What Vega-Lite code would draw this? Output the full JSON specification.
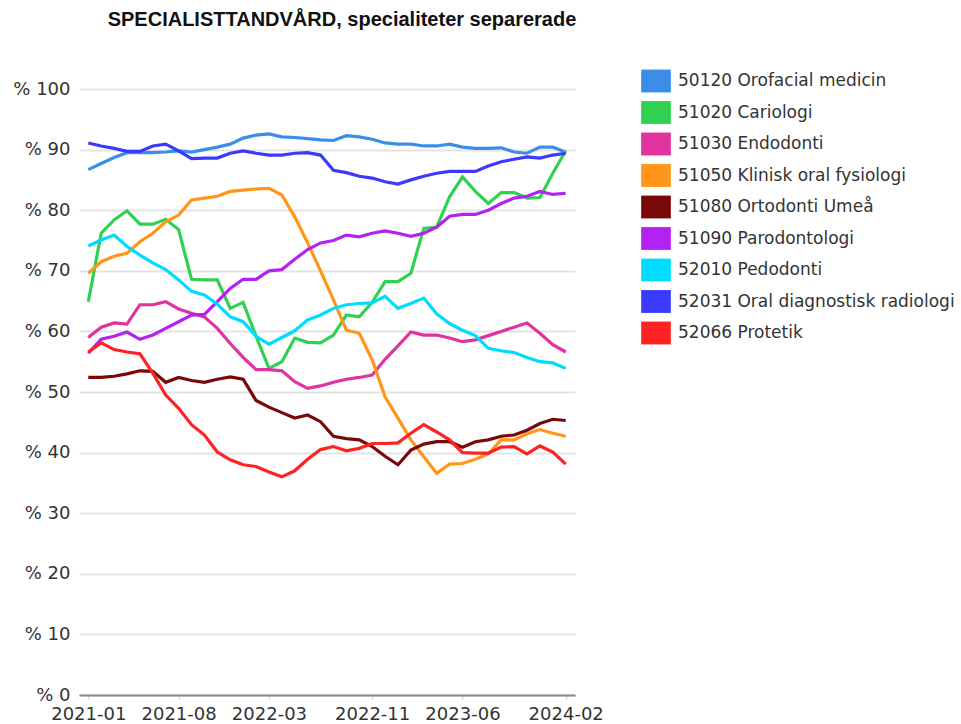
{
 "$schema": "https://vega.github.io/schema/vega-lite/v6.json",
 "width": 496, "height": 606,
 "autosize": {"type": "none"},
 "padding": {"left": 79, "top": 89, "right": 386, "bottom": 29},
 "background": "white",
 "title": {"text": "SPECIALISTTANDVÅRD, specialiteter separerade", "font": "Liberation Sans", "fontSize": 20, "fontWeight": "bold", "color": "#111111", "anchor": "middle", "dx": 15, "offset": 36},
 "config": {"view": {"stroke": null}},
 "datasets": {
  "d": [
{"m":"2021-01","s":"50120 Orofacial medicin","v":86.7},{"m":"2021-02","s":"50120 Orofacial medicin","v":87.7},{"m":"2021-03","s":"50120 Orofacial medicin","v":88.7},{"m":"2021-04","s":"50120 Orofacial medicin","v":89.5},{"m":"2021-05","s":"50120 Orofacial medicin","v":89.5},{"m":"2021-06","s":"50120 Orofacial medicin","v":89.5},{"m":"2021-07","s":"50120 Orofacial medicin","v":89.6},{"m":"2021-08","s":"50120 Orofacial medicin","v":89.8},{"m":"2021-09","s":"50120 Orofacial medicin","v":89.6},{"m":"2021-10","s":"50120 Orofacial medicin","v":90.0},{"m":"2021-11","s":"50120 Orofacial medicin","v":90.4},{"m":"2021-12","s":"50120 Orofacial medicin","v":90.9},{"m":"2022-01","s":"50120 Orofacial medicin","v":91.9},{"m":"2022-02","s":"50120 Orofacial medicin","v":92.4},{"m":"2022-03","s":"50120 Orofacial medicin","v":92.6},{"m":"2022-04","s":"50120 Orofacial medicin","v":92.1},{"m":"2022-05","s":"50120 Orofacial medicin","v":92.0},{"m":"2022-06","s":"50120 Orofacial medicin","v":91.8},{"m":"2022-07","s":"50120 Orofacial medicin","v":91.6},{"m":"2022-08","s":"50120 Orofacial medicin","v":91.5},{"m":"2022-09","s":"50120 Orofacial medicin","v":92.3},{"m":"2022-10","s":"50120 Orofacial medicin","v":92.1},{"m":"2022-11","s":"50120 Orofacial medicin","v":91.7},{"m":"2022-12","s":"50120 Orofacial medicin","v":91.1},{"m":"2023-01","s":"50120 Orofacial medicin","v":90.9},{"m":"2023-02","s":"50120 Orofacial medicin","v":90.9},{"m":"2023-03","s":"50120 Orofacial medicin","v":90.6},{"m":"2023-04","s":"50120 Orofacial medicin","v":90.6},{"m":"2023-05","s":"50120 Orofacial medicin","v":90.9},{"m":"2023-06","s":"50120 Orofacial medicin","v":90.4},{"m":"2023-07","s":"50120 Orofacial medicin","v":90.2},{"m":"2023-08","s":"50120 Orofacial medicin","v":90.2},{"m":"2023-09","s":"50120 Orofacial medicin","v":90.3},{"m":"2023-10","s":"50120 Orofacial medicin","v":89.6},{"m":"2023-11","s":"50120 Orofacial medicin","v":89.4},{"m":"2023-12","s":"50120 Orofacial medicin","v":90.4},{"m":"2024-01","s":"50120 Orofacial medicin","v":90.4},{"m":"2024-02","s":"50120 Orofacial medicin","v":89.6},
{"m":"2021-01","s":"51020 Cariologi","v":64.9},{"m":"2021-02","s":"51020 Cariologi","v":76.2},{"m":"2021-03","s":"51020 Cariologi","v":78.4},{"m":"2021-04","s":"51020 Cariologi","v":79.9},{"m":"2021-05","s":"51020 Cariologi","v":77.7},{"m":"2021-06","s":"51020 Cariologi","v":77.7},{"m":"2021-07","s":"51020 Cariologi","v":78.5},{"m":"2021-08","s":"51020 Cariologi","v":76.8},{"m":"2021-09","s":"51020 Cariologi","v":68.6},{"m":"2021-10","s":"51020 Cariologi","v":68.5},{"m":"2021-11","s":"51020 Cariologi","v":68.5},{"m":"2021-12","s":"51020 Cariologi","v":63.8},{"m":"2022-01","s":"51020 Cariologi","v":64.8},{"m":"2022-02","s":"51020 Cariologi","v":59.2},{"m":"2022-03","s":"51020 Cariologi","v":53.9},{"m":"2022-04","s":"51020 Cariologi","v":55.0},{"m":"2022-05","s":"51020 Cariologi","v":58.9},{"m":"2022-06","s":"51020 Cariologi","v":58.2},{"m":"2022-07","s":"51020 Cariologi","v":58.1},{"m":"2022-08","s":"51020 Cariologi","v":59.4},{"m":"2022-09","s":"51020 Cariologi","v":62.7},{"m":"2022-10","s":"51020 Cariologi","v":62.4},{"m":"2022-11","s":"51020 Cariologi","v":64.8},{"m":"2022-12","s":"51020 Cariologi","v":68.2},{"m":"2023-01","s":"51020 Cariologi","v":68.2},{"m":"2023-02","s":"51020 Cariologi","v":69.6},{"m":"2023-03","s":"51020 Cariologi","v":77.0},{"m":"2023-04","s":"51020 Cariologi","v":77.2},{"m":"2023-05","s":"51020 Cariologi","v":82.2},{"m":"2023-06","s":"51020 Cariologi","v":85.5},{"m":"2023-07","s":"51020 Cariologi","v":83.1},{"m":"2023-08","s":"51020 Cariologi","v":81.1},{"m":"2023-09","s":"51020 Cariologi","v":82.9},{"m":"2023-10","s":"51020 Cariologi","v":82.9},{"m":"2023-11","s":"51020 Cariologi","v":82.0},{"m":"2023-12","s":"51020 Cariologi","v":82.1},{"m":"2024-01","s":"51020 Cariologi","v":86.1},{"m":"2024-02","s":"51020 Cariologi","v":89.8},
{"m":"2021-01","s":"51030 Endodonti","v":59.0},{"m":"2021-02","s":"51030 Endodonti","v":60.7},{"m":"2021-03","s":"51030 Endodonti","v":61.4},{"m":"2021-04","s":"51030 Endodonti","v":61.2},{"m":"2021-05","s":"51030 Endodonti","v":64.4},{"m":"2021-06","s":"51030 Endodonti","v":64.4},{"m":"2021-07","s":"51030 Endodonti","v":64.9},{"m":"2021-08","s":"51030 Endodonti","v":63.7},{"m":"2021-09","s":"51030 Endodonti","v":63.0},{"m":"2021-10","s":"51030 Endodonti","v":62.4},{"m":"2021-11","s":"51030 Endodonti","v":60.5},{"m":"2021-12","s":"51030 Endodonti","v":58.0},{"m":"2022-01","s":"51030 Endodonti","v":55.7},{"m":"2022-02","s":"51030 Endodonti","v":53.7},{"m":"2022-03","s":"51030 Endodonti","v":53.7},{"m":"2022-04","s":"51030 Endodonti","v":53.5},{"m":"2022-05","s":"51030 Endodonti","v":51.7},{"m":"2022-06","s":"51030 Endodonti","v":50.6},{"m":"2022-07","s":"51030 Endodonti","v":51.0},{"m":"2022-08","s":"51030 Endodonti","v":51.6},{"m":"2022-09","s":"51030 Endodonti","v":52.1},{"m":"2022-10","s":"51030 Endodonti","v":52.4},{"m":"2022-11","s":"51030 Endodonti","v":52.8},{"m":"2022-12","s":"51030 Endodonti","v":55.4},{"m":"2023-01","s":"51030 Endodonti","v":57.6},{"m":"2023-02","s":"51030 Endodonti","v":59.9},{"m":"2023-03","s":"51030 Endodonti","v":59.4},{"m":"2023-04","s":"51030 Endodonti","v":59.4},{"m":"2023-05","s":"51030 Endodonti","v":58.9},{"m":"2023-06","s":"51030 Endodonti","v":58.3},{"m":"2023-07","s":"51030 Endodonti","v":58.6},{"m":"2023-08","s":"51030 Endodonti","v":59.3},{"m":"2023-09","s":"51030 Endodonti","v":60.0},{"m":"2023-10","s":"51030 Endodonti","v":60.7},{"m":"2023-11","s":"51030 Endodonti","v":61.4},{"m":"2023-12","s":"51030 Endodonti","v":59.7},{"m":"2024-01","s":"51030 Endodonti","v":57.8},{"m":"2024-02","s":"51030 Endodonti","v":56.6},
{"m":"2021-01","s":"51050 Klinisk oral fysiologi","v":69.6},{"m":"2021-02","s":"51050 Klinisk oral fysiologi","v":71.5},{"m":"2021-03","s":"51050 Klinisk oral fysiologi","v":72.4},{"m":"2021-04","s":"51050 Klinisk oral fysiologi","v":72.9},{"m":"2021-05","s":"51050 Klinisk oral fysiologi","v":74.8},{"m":"2021-06","s":"51050 Klinisk oral fysiologi","v":76.2},{"m":"2021-07","s":"51050 Klinisk oral fysiologi","v":78.1},{"m":"2021-08","s":"51050 Klinisk oral fysiologi","v":79.2},{"m":"2021-09","s":"51050 Klinisk oral fysiologi","v":81.7},{"m":"2021-10","s":"51050 Klinisk oral fysiologi","v":82.0},{"m":"2021-11","s":"51050 Klinisk oral fysiologi","v":82.3},{"m":"2021-12","s":"51050 Klinisk oral fysiologi","v":83.1},{"m":"2022-01","s":"51050 Klinisk oral fysiologi","v":83.3},{"m":"2022-02","s":"51050 Klinisk oral fysiologi","v":83.5},{"m":"2022-03","s":"51050 Klinisk oral fysiologi","v":83.6},{"m":"2022-04","s":"51050 Klinisk oral fysiologi","v":82.5},{"m":"2022-05","s":"51050 Klinisk oral fysiologi","v":78.9},{"m":"2022-06","s":"51050 Klinisk oral fysiologi","v":74.6},{"m":"2022-07","s":"51050 Klinisk oral fysiologi","v":70.0},{"m":"2022-08","s":"51050 Klinisk oral fysiologi","v":65.2},{"m":"2022-09","s":"51050 Klinisk oral fysiologi","v":60.2},{"m":"2022-10","s":"51050 Klinisk oral fysiologi","v":59.7},{"m":"2022-11","s":"51050 Klinisk oral fysiologi","v":55.3},{"m":"2022-12","s":"51050 Klinisk oral fysiologi","v":49.2},{"m":"2023-01","s":"51050 Klinisk oral fysiologi","v":45.7},{"m":"2023-02","s":"51050 Klinisk oral fysiologi","v":42.1},{"m":"2023-03","s":"51050 Klinisk oral fysiologi","v":39.3},{"m":"2023-04","s":"51050 Klinisk oral fysiologi","v":36.6},{"m":"2023-05","s":"51050 Klinisk oral fysiologi","v":38.1},{"m":"2023-06","s":"51050 Klinisk oral fysiologi","v":38.2},{"m":"2023-07","s":"51050 Klinisk oral fysiologi","v":38.9},{"m":"2023-08","s":"51050 Klinisk oral fysiologi","v":39.8},{"m":"2023-09","s":"51050 Klinisk oral fysiologi","v":42.1},{"m":"2023-10","s":"51050 Klinisk oral fysiologi","v":42.1},{"m":"2023-11","s":"51050 Klinisk oral fysiologi","v":43.1},{"m":"2023-12","s":"51050 Klinisk oral fysiologi","v":43.8},{"m":"2024-01","s":"51050 Klinisk oral fysiologi","v":43.2},{"m":"2024-02","s":"51050 Klinisk oral fysiologi","v":42.7},
{"m":"2021-01","s":"51080 Ortodonti Umeå","v":52.4},{"m":"2021-02","s":"51080 Ortodonti Umeå","v":52.4},{"m":"2021-03","s":"51080 Ortodonti Umeå","v":52.6},{"m":"2021-04","s":"51080 Ortodonti Umeå","v":53.0},{"m":"2021-05","s":"51080 Ortodonti Umeå","v":53.5},{"m":"2021-06","s":"51080 Ortodonti Umeå","v":53.4},{"m":"2021-07","s":"51080 Ortodonti Umeå","v":51.6},{"m":"2021-08","s":"51080 Ortodonti Umeå","v":52.4},{"m":"2021-09","s":"51080 Ortodonti Umeå","v":51.9},{"m":"2021-10","s":"51080 Ortodonti Umeå","v":51.6},{"m":"2021-11","s":"51080 Ortodonti Umeå","v":52.1},{"m":"2021-12","s":"51080 Ortodonti Umeå","v":52.5},{"m":"2022-01","s":"51080 Ortodonti Umeå","v":52.1},{"m":"2022-02","s":"51080 Ortodonti Umeå","v":48.6},{"m":"2022-03","s":"51080 Ortodonti Umeå","v":47.5},{"m":"2022-04","s":"51080 Ortodonti Umeå","v":46.6},{"m":"2022-05","s":"51080 Ortodonti Umeå","v":45.7},{"m":"2022-06","s":"51080 Ortodonti Umeå","v":46.2},{"m":"2022-07","s":"51080 Ortodonti Umeå","v":45.1},{"m":"2022-08","s":"51080 Ortodonti Umeå","v":42.7},{"m":"2022-09","s":"51080 Ortodonti Umeå","v":42.3},{"m":"2022-10","s":"51080 Ortodonti Umeå","v":42.1},{"m":"2022-11","s":"51080 Ortodonti Umeå","v":41.0},{"m":"2022-12","s":"51080 Ortodonti Umeå","v":39.4},{"m":"2023-01","s":"51080 Ortodonti Umeå","v":38.0},{"m":"2023-02","s":"51080 Ortodonti Umeå","v":40.4},{"m":"2023-03","s":"51080 Ortodonti Umeå","v":41.4},{"m":"2023-04","s":"51080 Ortodonti Umeå","v":41.8},{"m":"2023-05","s":"51080 Ortodonti Umeå","v":41.8},{"m":"2023-06","s":"51080 Ortodonti Umeå","v":40.9},{"m":"2023-07","s":"51080 Ortodonti Umeå","v":41.8},{"m":"2023-08","s":"51080 Ortodonti Umeå","v":42.1},{"m":"2023-09","s":"51080 Ortodonti Umeå","v":42.7},{"m":"2023-10","s":"51080 Ortodonti Umeå","v":42.9},{"m":"2023-11","s":"51080 Ortodonti Umeå","v":43.7},{"m":"2023-12","s":"51080 Ortodonti Umeå","v":44.8},{"m":"2024-01","s":"51080 Ortodonti Umeå","v":45.5},{"m":"2024-02","s":"51080 Ortodonti Umeå","v":45.3},
{"m":"2021-01","s":"51090 Parodontologi","v":56.4},{"m":"2021-02","s":"51090 Parodontologi","v":58.7},{"m":"2021-03","s":"51090 Parodontologi","v":59.2},{"m":"2021-04","s":"51090 Parodontologi","v":59.9},{"m":"2021-05","s":"51090 Parodontologi","v":58.7},{"m":"2021-06","s":"51090 Parodontologi","v":59.4},{"m":"2021-07","s":"51090 Parodontologi","v":60.5},{"m":"2021-08","s":"51090 Parodontologi","v":61.6},{"m":"2021-09","s":"51090 Parodontologi","v":62.7},{"m":"2021-10","s":"51090 Parodontologi","v":62.8},{"m":"2021-11","s":"51090 Parodontologi","v":64.9},{"m":"2021-12","s":"51090 Parodontologi","v":67.1},{"m":"2022-01","s":"51090 Parodontologi","v":68.6},{"m":"2022-02","s":"51090 Parodontologi","v":68.6},{"m":"2022-03","s":"51090 Parodontologi","v":70.0},{"m":"2022-04","s":"51090 Parodontologi","v":70.2},{"m":"2022-05","s":"51090 Parodontologi","v":71.9},{"m":"2022-06","s":"51090 Parodontologi","v":73.5},{"m":"2022-07","s":"51090 Parodontologi","v":74.6},{"m":"2022-08","s":"51090 Parodontologi","v":75.0},{"m":"2022-09","s":"51090 Parodontologi","v":75.9},{"m":"2022-10","s":"51090 Parodontologi","v":75.6},{"m":"2022-11","s":"51090 Parodontologi","v":76.2},{"m":"2022-12","s":"51090 Parodontologi","v":76.6},{"m":"2023-01","s":"51090 Parodontologi","v":76.2},{"m":"2023-02","s":"51090 Parodontologi","v":75.7},{"m":"2023-03","s":"51090 Parodontologi","v":76.2},{"m":"2023-04","s":"51090 Parodontologi","v":77.2},{"m":"2023-05","s":"51090 Parodontologi","v":79.0},{"m":"2023-06","s":"51090 Parodontologi","v":79.3},{"m":"2023-07","s":"51090 Parodontologi","v":79.3},{"m":"2023-08","s":"51090 Parodontologi","v":80.0},{"m":"2023-09","s":"51090 Parodontologi","v":81.1},{"m":"2023-10","s":"51090 Parodontologi","v":82.0},{"m":"2023-11","s":"51090 Parodontologi","v":82.3},{"m":"2023-12","s":"51090 Parodontologi","v":83.1},{"m":"2024-01","s":"51090 Parodontologi","v":82.6},{"m":"2024-02","s":"51090 Parodontologi","v":82.8},
{"m":"2021-01","s":"52010 Pedodonti","v":74.1},{"m":"2021-02","s":"52010 Pedodonti","v":75.1},{"m":"2021-03","s":"52010 Pedodonti","v":75.9},{"m":"2021-04","s":"52010 Pedodonti","v":74.0},{"m":"2021-05","s":"52010 Pedodonti","v":72.6},{"m":"2021-06","s":"52010 Pedodonti","v":71.3},{"m":"2021-07","s":"52010 Pedodonti","v":70.2},{"m":"2021-08","s":"52010 Pedodonti","v":68.5},{"m":"2021-09","s":"52010 Pedodonti","v":66.6},{"m":"2021-10","s":"52010 Pedodonti","v":66.0},{"m":"2021-11","s":"52010 Pedodonti","v":64.5},{"m":"2021-12","s":"52010 Pedodonti","v":62.4},{"m":"2022-01","s":"52010 Pedodonti","v":61.6},{"m":"2022-02","s":"52010 Pedodonti","v":59.2},{"m":"2022-03","s":"52010 Pedodonti","v":57.9},{"m":"2022-04","s":"52010 Pedodonti","v":59.0},{"m":"2022-05","s":"52010 Pedodonti","v":60.1},{"m":"2022-06","s":"52010 Pedodonti","v":61.9},{"m":"2022-07","s":"52010 Pedodonti","v":62.7},{"m":"2022-08","s":"52010 Pedodonti","v":63.8},{"m":"2022-09","s":"52010 Pedodonti","v":64.4},{"m":"2022-10","s":"52010 Pedodonti","v":64.6},{"m":"2022-11","s":"52010 Pedodonti","v":64.7},{"m":"2022-12","s":"52010 Pedodonti","v":65.8},{"m":"2023-01","s":"52010 Pedodonti","v":63.8},{"m":"2023-02","s":"52010 Pedodonti","v":64.6},{"m":"2023-03","s":"52010 Pedodonti","v":65.5},{"m":"2023-04","s":"52010 Pedodonti","v":62.9},{"m":"2023-05","s":"52010 Pedodonti","v":61.3},{"m":"2023-06","s":"52010 Pedodonti","v":60.2},{"m":"2023-07","s":"52010 Pedodonti","v":59.3},{"m":"2023-08","s":"52010 Pedodonti","v":57.2},{"m":"2023-09","s":"52010 Pedodonti","v":56.8},{"m":"2023-10","s":"52010 Pedodonti","v":56.5},{"m":"2023-11","s":"52010 Pedodonti","v":55.7},{"m":"2023-12","s":"52010 Pedodonti","v":55.0},{"m":"2024-01","s":"52010 Pedodonti","v":54.8},{"m":"2024-02","s":"52010 Pedodonti","v":53.9},
{"m":"2021-01","s":"52031 Oral diagnostisk radiologi","v":91.1},{"m":"2021-02","s":"52031 Oral diagnostisk radiologi","v":90.6},{"m":"2021-03","s":"52031 Oral diagnostisk radiologi","v":90.2},{"m":"2021-04","s":"52031 Oral diagnostisk radiologi","v":89.7},{"m":"2021-05","s":"52031 Oral diagnostisk radiologi","v":89.7},{"m":"2021-06","s":"52031 Oral diagnostisk radiologi","v":90.6},{"m":"2021-07","s":"52031 Oral diagnostisk radiologi","v":90.9},{"m":"2021-08","s":"52031 Oral diagnostisk radiologi","v":89.8},{"m":"2021-09","s":"52031 Oral diagnostisk radiologi","v":88.5},{"m":"2021-10","s":"52031 Oral diagnostisk radiologi","v":88.6},{"m":"2021-11","s":"52031 Oral diagnostisk radiologi","v":88.6},{"m":"2021-12","s":"52031 Oral diagnostisk radiologi","v":89.4},{"m":"2022-01","s":"52031 Oral diagnostisk radiologi","v":89.8},{"m":"2022-02","s":"52031 Oral diagnostisk radiologi","v":89.4},{"m":"2022-03","s":"52031 Oral diagnostisk radiologi","v":89.1},{"m":"2022-04","s":"52031 Oral diagnostisk radiologi","v":89.1},{"m":"2022-05","s":"52031 Oral diagnostisk radiologi","v":89.4},{"m":"2022-06","s":"52031 Oral diagnostisk radiologi","v":89.5},{"m":"2022-07","s":"52031 Oral diagnostisk radiologi","v":89.1},{"m":"2022-08","s":"52031 Oral diagnostisk radiologi","v":86.6},{"m":"2022-09","s":"52031 Oral diagnostisk radiologi","v":86.2},{"m":"2022-10","s":"52031 Oral diagnostisk radiologi","v":85.6},{"m":"2022-11","s":"52031 Oral diagnostisk radiologi","v":85.3},{"m":"2022-12","s":"52031 Oral diagnostisk radiologi","v":84.7},{"m":"2023-01","s":"52031 Oral diagnostisk radiologi","v":84.3},{"m":"2023-02","s":"52031 Oral diagnostisk radiologi","v":85.0},{"m":"2023-03","s":"52031 Oral diagnostisk radiologi","v":85.6},{"m":"2023-04","s":"52031 Oral diagnostisk radiologi","v":86.1},{"m":"2023-05","s":"52031 Oral diagnostisk radiologi","v":86.4},{"m":"2023-06","s":"52031 Oral diagnostisk radiologi","v":86.4},{"m":"2023-07","s":"52031 Oral diagnostisk radiologi","v":86.4},{"m":"2023-08","s":"52031 Oral diagnostisk radiologi","v":87.3},{"m":"2023-09","s":"52031 Oral diagnostisk radiologi","v":88.0},{"m":"2023-10","s":"52031 Oral diagnostisk radiologi","v":88.4},{"m":"2023-11","s":"52031 Oral diagnostisk radiologi","v":88.8},{"m":"2023-12","s":"52031 Oral diagnostisk radiologi","v":88.6},{"m":"2024-01","s":"52031 Oral diagnostisk radiologi","v":89.1},{"m":"2024-02","s":"52031 Oral diagnostisk radiologi","v":89.4},
{"m":"2021-01","s":"52066 Protetik","v":56.6},{"m":"2021-02","s":"52066 Protetik","v":58.1},{"m":"2021-03","s":"52066 Protetik","v":57.0},{"m":"2021-04","s":"52066 Protetik","v":56.6},{"m":"2021-05","s":"52066 Protetik","v":56.3},{"m":"2021-06","s":"52066 Protetik","v":53.1},{"m":"2021-07","s":"52066 Protetik","v":49.5},{"m":"2021-08","s":"52066 Protetik","v":47.3},{"m":"2021-09","s":"52066 Protetik","v":44.6},{"m":"2021-10","s":"52066 Protetik","v":42.9},{"m":"2021-11","s":"52066 Protetik","v":40.1},{"m":"2021-12","s":"52066 Protetik","v":38.8},{"m":"2022-01","s":"52066 Protetik","v":38.0},{"m":"2022-02","s":"52066 Protetik","v":37.7},{"m":"2022-03","s":"52066 Protetik","v":36.8},{"m":"2022-04","s":"52066 Protetik","v":36.0},{"m":"2022-05","s":"52066 Protetik","v":37.0},{"m":"2022-06","s":"52066 Protetik","v":38.9},{"m":"2022-07","s":"52066 Protetik","v":40.5},{"m":"2022-08","s":"52066 Protetik","v":41.0},{"m":"2022-09","s":"52066 Protetik","v":40.3},{"m":"2022-10","s":"52066 Protetik","v":40.7},{"m":"2022-11","s":"52066 Protetik","v":41.5},{"m":"2022-12","s":"52066 Protetik","v":41.5},{"m":"2023-01","s":"52066 Protetik","v":41.6},{"m":"2023-02","s":"52066 Protetik","v":43.2},{"m":"2023-03","s":"52066 Protetik","v":44.6},{"m":"2023-04","s":"52066 Protetik","v":43.4},{"m":"2023-05","s":"52066 Protetik","v":42.1},{"m":"2023-06","s":"52066 Protetik","v":40.0},{"m":"2023-07","s":"52066 Protetik","v":39.9},{"m":"2023-08","s":"52066 Protetik","v":39.9},{"m":"2023-09","s":"52066 Protetik","v":40.9},{"m":"2023-10","s":"52066 Protetik","v":41.0},{"m":"2023-11","s":"52066 Protetik","v":39.8},{"m":"2023-12","s":"52066 Protetik","v":41.1},{"m":"2024-01","s":"52066 Protetik","v":40.1},{"m":"2024-02","s":"52066 Protetik","v":38.1}
  ]
 },
 "data": {"name": "d"},
 "mark": {"type": "line", "strokeWidth": 3.2, "interpolate": "linear"},
 "encoding": {
  "x": {"field": "m", "type": "ordinal", "scale": {"type": "point", "padding": 0.72},
   "axis": {"values": ["2021-01","2021-08","2022-03","2022-11","2023-06","2024-02"], "title": null, "labelAngle": 0, "grid": false, "domainColor": "#8a8a8a", "domainWidth": 2, "tickColor": "#d5d5d5", "tickSize": 4, "tickWidth": 1.5, "labelFont": "DejaVu Sans", "labelFontSize": 18, "labelColor": "#333333", "labelPadding": 6}},
  "y": {"field": "v", "type": "quantitative", "scale": {"domain": [0, 100]},
   "axis": {"values": [0,10,20,30,40,50,60,70,80,90,100], "labelExpr": "'% ' + datum.value", "title": null, "ticks": false, "domain": false, "grid": true, "gridColor": "#e4e4e4", "gridWidth": 2, "labelFont": "DejaVu Sans", "labelFontSize": 18, "labelColor": "#333333", "labelPadding": 9}},
  "color": {"field": "s", "type": "nominal",
   "scale": {"domain": ["50120 Orofacial medicin","51020 Cariologi","51030 Endodonti","51050 Klinisk oral fysiologi","51080 Ortodonti Umeå","51090 Parodontologi","52010 Pedodonti","52031 Oral diagnostisk radiologi","52066 Protetik"],
    "range": ["#3a8ee8","#30d050","#e033a0","#ff961a","#7a0808","#b322f2","#00dcff","#3a3aff","#ff2222"]},
   "legend": {"title": null, "orient": "none", "legendX": 562, "legendY": -23, "symbolType": "M-1,-0.77H1V0.77H-1Z", "symbolSize": 880, "symbolStrokeWidth": 0, "labelFont": "DejaVu Sans", "labelFontSize": 17, "labelColor": "#333333", "labelOffset": 7, "rowPadding": 4.5, "labelLimit": 400,
    "encode": {"symbols": {"update": {"fill": {"scale": "color", "field": "value"}, "fillOpacity": {"value": 1}, "strokeWidth": {"value": 0}}}}}}
 }
}
